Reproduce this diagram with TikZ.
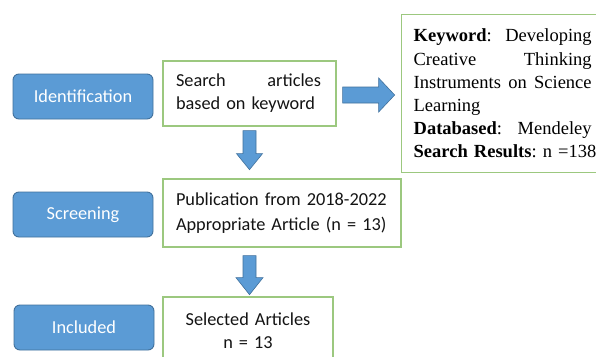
\documentclass[tikz,border=0pt]{standalone}
\usepackage{fontspec}
\setmainfont{Carlito}
\newfontfamily\serifkw{Liberation Serif}
\usetikzlibrary{calc}
\definecolor{bfill}{HTML}{5B9BD5}
\definecolor{bline}{HTML}{41719C}
\definecolor{gline}{HTML}{9CC87F}
\newcommand{\jline}[2]{\leavevmode\hbox to #1{#2}}
\tikzset{
  stagebox/.style={rectangle, rounded corners=6pt, fill=bfill, draw=bline, line width=0.9pt,
    minimum width=140pt, minimum height=45pt, text=white, font=\fontsize{18.3}{23}\selectfont},
  greenbox/.style={rectangle, draw=gline, line width=1.3pt, fill=white, inner xsep=12pt,
    font=\frenchspacing\fontsize{18.3}{23}\selectfont, text=black!92},
  blockarrow/.style={fill=bfill, draw=bline, line width=0.6pt, line join=miter}
}
\begin{document}
\begin{tikzpicture}[x=1pt,y=-1pt]
\useasboundingbox (0,0) rectangle (596,356);
\clip (0,0) rectangle (596,356);
\fill[white] (0,0) rectangle (596,356);
% stage labels
\node[stagebox] (ident) at (83,96.5) {Identification};
\node[stagebox] (screen) at (83,214.5) {Screening};
\node[stagebox] (incl) at (84,327.5) {Included};
% content boxes
\node[greenbox, minimum width=173pt, minimum height=65pt, inner xsep=13pt, text width=147pt, align=left] (search) at (249.5,93.5)
  {\jline{145pt}{Search\hfill articles}\\based on keyword};
\node[greenbox, minimum width=238pt, minimum height=68pt, inner xsep=13pt, text width=212pt, align=left,
  font=\frenchspacing\fontsize{18.3}{24.5}\selectfont] (pub) at (282,213)
  {\mbox{Publication from 2018-2022}\\\mbox{Appropriate Article (n = 13)}};
\node[greenbox, minimum width=170pt, minimum height=68pt, text width=146pt, align=center] (sel) at (248,331)
  {Selected Articles\\n = 13};
\node[greenbox, minimum width=202pt, minimum height=158pt, inner xsep=12pt, text width=178pt, align=left,
  font=\frenchspacing\serifkw\fontsize{18.5}{23.2}\selectfont, text=black, anchor=north west] (kw) at (401,14)
  {\jline{178pt}{\textbf{Keyword}: \hfill Developing}\\
   \jline{178pt}{Creative \hfill Thinking}\\
   \jline{178pt}{Instruments \hfill on \hfill Science}\\
   Learning\\
   \jline{178pt}{\textbf{Databased}: \hfill Mendeley}\\
   \jline{178pt}{\textbf{Search Results}: \hfill n =138}};
% block arrows
\draw[blockarrow] ($(search.east)+(6,-6.5)$) -- ++(36,0) -- ++(0,-9) -- ++(16,17) -- ++(-16,17) -- ++(0,-9) -- ++(-36,0) -- cycle;
\draw[blockarrow] ($(search.south)+(-6.5,4)$) -- ++(13,0) -- ++(0,23) -- ++(6.5,0) -- ++(-13,16) -- ++(-13,-16) -- ++(6.5,0) -- cycle;
\draw[blockarrow] ($(search.south |- pub.south)+(-6.5,8)$) -- ++(13,0) -- ++(0,22) -- ++(7,0) -- ++(-13.5,17) -- ++(-13.5,-17) -- ++(7,0) -- cycle;
\end{tikzpicture}
\end{document}
